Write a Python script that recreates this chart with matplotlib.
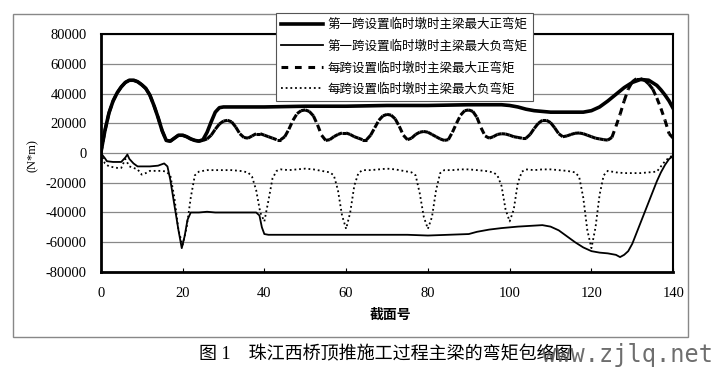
"""
Bending moment envelope of main girder during incremental launching
"""

import numpy as np
import matplotlib
matplotlib.use("Agg")
import matplotlib.pyplot as plt
from matplotlib.collections import LineCollection
from matplotlib.lines import Line2D
from matplotlib.patches import Rectangle

plt.rcParams['font.family'] = ['Liberation Serif', 'Noto Sans CJK SC']
plt.rcParams['axes.unicode_minus'] = False

# first span with temporary pier - max positive moment
pos_first_x = [0, 1, 2, 3, 4, 5, 6, 7, 8, 9, 10, 11, 12, 13, 14, 15, 16, 17, 18, 19,
               20, 21, 22, 23, 24, 25, 26, 27, 28, 29, 30, 40, 50, 60, 70, 80, 90, 98,
               100, 102, 104, 106, 108, 110, 114, 118, 120, 122, 124, 126, 128, 130,
               132, 134, 136, 137, 138, 139, 140]
pos_first_y = [0, 15000, 27000, 35000, 40500, 44500, 47500, 49000, 49000, 48000, 46000,
               43500, 39000, 32000, 24000, 15000, 8500, 8000, 10000, 12000, 12000, 11000,
               9500, 8500, 8000, 9000, 14000, 21000, 27500, 30500, 31000, 31000, 31500,
               31500, 32000, 32000, 32500, 32500, 32000, 31000, 29500, 28500, 28000,
               27500, 27500, 27500, 28500, 31000, 35000, 39500, 44000, 47500, 49500,
               49000, 45500, 42500, 39000, 35000, 30000]

# first span with temporary pier - max negative moment
neg_first_x = [0, 1, 1.5, 3, 5, 6, 6.5, 7, 8, 9, 10, 12, 14, 15.5, 16.3, 17, 18, 19,
               19.8, 20.5, 21.2, 22, 24, 26, 28, 30, 34, 38, 38.8, 39.4, 40, 41, 45,
               50, 55, 60, 65, 70, 75, 80, 85, 90, 92, 95, 98, 100, 102, 105, 108, 110,
               112, 114, 116, 118, 120, 122, 124, 126, 127, 128, 129, 130, 131, 132,
               133, 134, 135, 136, 137, 138, 139, 140]
neg_first_y = [0, -3500, -5500, -6000, -6000, -3000, -1000, -4000, -7000, -9000, -9000,
               -9000, -8500, -7000, -9000, -18000, -35000, -52000, -64000, -56000,
               -45000, -40000, -40000, -39500, -40000, -40000, -40000, -40000, -42000,
               -50000, -54500, -55000, -55000, -55000, -55000, -55000, -55000, -55000,
               -55000, -55500, -55000, -54500, -53000, -51500, -50500, -50000, -49500,
               -49000, -48500, -49500, -52000, -56000, -60000, -63500, -66000, -67000,
               -67500, -68500, -70000, -68500, -66000, -61000, -54000, -47000,
               -40000, -33000, -26000, -19000, -13000, -8000, -4000, -2000]

# every span with temporary pier - max positive moment
pos_each_x = list(range(0, 141))
pos_each_y = [0, 15000, 27000, 35000, 40500, 44500, 47500, 49000, 49000, 48000, 46000,
              43500, 39000, 32000, 24000, 15000, 8500, 8000, 10000, 12000, 12000, 11000,
              9500, 8500, 8000, 8500, 9500, 12000, 16000, 19500, 21500, 22000, 21000,
              17500, 13000, 10500, 10000, 11500, 13000, 13000, 12000, 11000, 10000, 9000,
              9000, 11000, 16000, 22000, 26500, 28500, 29000, 28000, 25000, 19000, 12000,
              8500, 9000, 11000, 12500, 13500, 13500, 12500, 11000, 10000, 9000, 9000,
              12000, 17000, 22000, 25000, 26000, 25500, 23000, 18000, 12000, 9000, 10000,
              12500, 14000, 14500, 14000, 12500, 11000, 9500, 8500, 9000, 14000, 20000,
              25500, 28500, 29000, 28000, 24000, 17000, 11500, 10000, 11000, 12500, 13000,
              12800, 12000, 11000, 10500, 10000, 10000, 12500, 16500, 20000, 22000, 22000,
              20500, 17000, 13000, 11000, 11500, 12500, 13300, 13500, 13000, 12000, 11000,
              10000, 9500, 9000, 8700, 10500, 18000, 26000, 35000, 43000, 48000, 50000,
              50000, 49000, 46500, 43000, 37000, 30000, 22000, 13000, 10000]

# every span with temporary pier - max negative moment
neg_each_x = [0, 1, 2, 3, 4, 5, 6, 7, 8, 9, 10, 11, 12, 13, 14, 15, 16, 17, 18, 19, 20,
              21, 22, 23, 24, 26, 28, 30, 32, 34, 36, 37, 38, 39, 40, 41, 42, 43, 44,
              46, 48, 50, 52, 54, 56, 57, 58, 59, 60, 61, 62, 63, 64, 66, 68, 70, 72,
              74, 76, 77, 78, 79, 80, 81, 82, 83, 84, 86, 88, 90, 92, 94, 96, 97, 98,
              99, 100, 101, 102, 103, 104, 106, 108, 110, 112, 114, 116, 117, 118, 119,
              120, 121, 122, 123, 124, 126, 128, 130, 132, 134, 136, 137, 138, 139, 140]
neg_each_y = [0, -7000, -9000, -9500, -10000, -10000, -4000, -9000, -10000, -11000,
              -14500, -13500, -12000, -12000, -12000, -12000, -12500, -15000, -30000,
              -52000, -62000, -50000, -30000, -15000, -12500, -11500, -11500, -11500,
              -11500, -12000, -13000, -16000, -25000, -40000, -46000, -32000, -17000,
              -12000, -11000, -11500, -11000, -10500, -11000, -12000, -13000, -15000,
              -25000, -42000, -51000, -40000, -22000, -13500, -11500, -11500, -11000,
              -10500, -11000, -12000, -13000, -15000, -27000, -43000, -51000, -43000,
              -25000, -13500, -11500, -11500, -11000, -11000, -11500, -12000, -13000,
              -15000, -22000, -38000, -46000, -38000, -20000, -12500, -11000, -11500,
              -11000, -11000, -11500, -12000, -13000, -16000, -30000, -52000, -64000,
              -50000, -28000, -15000, -12000, -13000, -13500, -13500, -13500, -13000,
              -12500, -9000, -5500, -3000, -1500]

labels = ['第一跨设置临时墩时主梁最大正弯矩',
          '第一跨设置临时墩时主梁最大负弯矩',
          '每跨设置临时墩时主梁最大正弯矩',
          '每跨设置临时墩时主梁最大负弯矩']
x_ticks = list(range(0, 141, 20))
y_ticks = list(range(-80000, 80001, 20000))


fig = plt.figure(figsize=(7.2, 3.71), dpi=100)
ax = fig.add_axes([0.140, 0.267, 0.795, 0.641])

for y in y_ticks:
    ax.axhline(y, color='#888888', linewidth=0.9, zorder=1)

ax.plot(pos_first_x, pos_first_y, color='black', linewidth=2.6, zorder=4)
ax.plot(neg_first_x, neg_first_y, color='black', linewidth=1.3, zorder=3)

# dashes restart on every segment, like the original spreadsheet chart
pts = np.column_stack([pos_each_x, pos_each_y])
segs = np.stack([pts[:-1], pts[1:]], axis=1)
lc = LineCollection(segs, colors='black', linewidths=2.2,
                    linestyles=[(0, (2.2, 1.6))], zorder=3)
ax.add_collection(lc)

ax.plot(neg_each_x, neg_each_y, color='black', linewidth=1.3,
        linestyle=(0, (1, 1.6)), zorder=2)

ax.set_xlim(0, 140)
ax.set_ylim(-80000, 80000)
ax.set_xticks(x_ticks)
ax.set_yticks(y_ticks)
ax.tick_params(axis='x', direction='in', length=3, pad=11, labelsize=10.5)
ax.tick_params(axis='y', length=0, pad=10, labelsize=10.5)
for side in ['left', 'bottom']:
    ax.spines[side].set_linewidth(2.0)
for side in ['top', 'right']:
    ax.spines[side].set_linewidth(1.5)

handles = [Line2D([], [], color='black', linewidth=2.6),
           Line2D([], [], color='black', linewidth=1.3),
           Line2D([], [], color='black', linewidth=2.2, linestyle=(0, (2.2, 2.2))),
           Line2D([], [], color='black', linewidth=1.3, linestyle=(0, (1, 1.6)))]
leg = fig.legend(handles, labels, loc='upper left', bbox_to_anchor=(0.383, 0.965),
                 borderaxespad=0, fontsize=9, handlelength=3.3, labelspacing=0.72,
                 borderpad=0.45, handletextpad=0.35, frameon=True, fancybox=False,
                 framealpha=1)
leg.get_frame().set_edgecolor('#555555')
leg.get_frame().set_linewidth(0.8)
leg.set_zorder(10)

fig.text(0.046, 0.582, '(N*m)', rotation=90, ha='center', va='center', fontsize=9)
fig.text(0.542, 0.151, '截面号', ha='center', va='center', fontsize=10,
         fontweight='bold')
fig.text(0.536, 0.043, '图 1    珠江西桥顶推施工过程主梁的弯矩包络图',
         ha='center', va='center', fontsize=13)
fig.text(0.99, 0.043, 'www.zjlq.net', ha='right', va='center', fontsize=17,
         family='DejaVu Sans Mono', color='#555555', alpha=0.85)

fig.patches.append(Rectangle((0.018, 0.092), 0.938, 0.870, transform=fig.transFigure,
                             fill=False, edgecolor='#888888', linewidth=1.0))

fig.savefig('out.png', dpi=100)
